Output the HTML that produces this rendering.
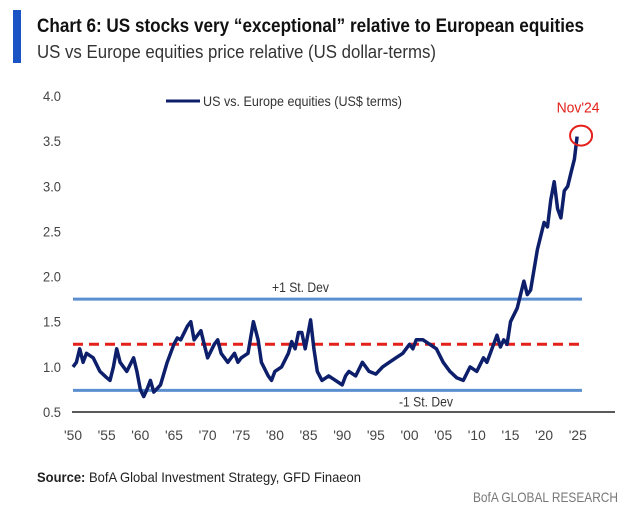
<!DOCTYPE html>
<html><head><meta charset="utf-8"><style>
html,body{margin:0;padding:0;background:#fff;}
svg{display:block;font-family:"Liberation Sans Narrow","Liberation Sans",sans-serif;}
</style></head><body>
<svg width="628" height="507" viewBox="0 0 628 507">
<rect x="13" y="10" width="8" height="53" fill="#1a53c4"/>
<text x="37" y="32" font-size="19" font-weight="bold" fill="#111" textLength="547" lengthAdjust="spacingAndGlyphs">Chart 6: US stocks very “exceptional” relative to European equities</text>
<text x="37" y="58" font-size="18" fill="#333" textLength="399" lengthAdjust="spacingAndGlyphs">US vs Europe equities price relative (US dollar-terms)</text>
<g id="axes"></g>
<g id="plot"></g>
<line x1="166" y1="101" x2="200" y2="101" stroke="#0d1f6b" stroke-width="3"/>
<text x="203" y="106" font-size="14" fill="#333" textLength="199" lengthAdjust="spacingAndGlyphs">US vs. Europe equities (US$ terms)</text>
<text x="37" y="482" font-size="14" fill="#222" textLength="324" lengthAdjust="spacingAndGlyphs"><tspan font-weight="bold">Source:</tspan> BofA Global Investment Strategy, GFD Finaeon</text>
<text x="473" y="502" font-size="14" fill="#777" textLength="145" lengthAdjust="spacingAndGlyphs">BofA GLOBAL RESEARCH</text>
</svg>
<script>
const years=[1950,1950.5,1951,1951.5,1952,1953,1954,1955,1955.5,1956,1956.5,1957,1958,1959,1959.5,1960,1960.5,1961,1961.5,1962,1963,1964,1965,1965.5,1966,1967,1967.5,1968,1969,1969.5,1970,1971,1971.5,1972,1973,1974,1974.5,1975,1976,1976.8,1977.5,1978,1979,1979.5,1980,1981,1982,1982.5,1983,1983.5,1984,1984.5,1985,1985.3,1985.8,1986.3,1987,1988,1989,1990,1990.5,1991,1992,1993,1994,1995,1996,1997,1998,1999,2000,2000.5,2001,2002,2003,2004,2005,2006,2007,2008,2009,2010,2011,2011.5,2012,2013,2013.5,2014,2014.5,2015,2016,2017,2017.5,2018,2019,2020,2020.5,2021,2021.5,2022,2022.5,2023,2023.5,2024,2024.5,2024.9];
const values=[1.0,1.05,1.2,1.05,1.15,1.1,0.95,0.88,0.85,1.0,1.2,1.05,0.95,1.1,0.95,0.75,0.67,0.75,0.85,0.72,0.8,1.05,1.25,1.32,1.3,1.45,1.5,1.3,1.4,1.25,1.1,1.25,1.3,1.15,1.05,1.15,1.05,1.1,1.15,1.5,1.3,1.05,0.9,0.85,0.95,1.0,1.15,1.28,1.2,1.38,1.38,1.2,1.4,1.52,1.2,0.95,0.85,0.9,0.85,0.8,0.9,0.95,0.9,1.05,0.95,0.92,1.0,1.05,1.1,1.15,1.25,1.2,1.3,1.3,1.25,1.2,1.05,0.95,0.88,0.85,1.0,0.95,1.1,1.05,1.15,1.35,1.22,1.3,1.25,1.5,1.65,1.95,1.8,1.85,2.3,2.6,2.55,2.85,3.05,2.75,2.65,2.95,3.0,3.15,3.3,3.55];
const yTicks=[0.5,1.0,1.5,2.0,2.5,3.0,3.5,4.0];
const xTicks=[1950,1955,1960,1965,1970,1975,1980,1985,1990,1995,2000,2005,2010,2015,2020,2025];
const plusSD=[1.75], minusSD=[0.74], meanVal=[1.25];
const NS='http://www.w3.org/2000/svg';
const X=y=>73+(y-1950)*6.73;
const Y=v=>412-(v-0.5)*90.3;
const axes=document.getElementById('axes'), plot=document.getElementById('plot');
function mk(tag,attrs,parent,txt){const e=document.createElementNS(NS,tag);for(const k in attrs)e.setAttribute(k,attrs[k]);if(txt!==undefined)e.textContent=txt;parent.appendChild(e);return e;}
const base=mk('line',{x1:72,x2:615,y1:Y(0.5),y2:Y(0.5),stroke:'#222','stroke-width':1.5},axes);


yTicks.forEach(v=>{const t=mk('text',{x:43,y:Y(v)+5,'font-size':14,fill:'#444',textLength:18,lengthAdjust:'spacingAndGlyphs'},axes,v.toFixed(1));

});
xTicks.forEach(y=>{const t=mk('text',{x:X(y)-9,y:440,'font-size':14,fill:'#444',textLength:18,lengthAdjust:'spacingAndGlyphs'},axes,"'"+String(y).slice(2));

});
const p1=mk('line',{x1:73,x2:582,y1:Y(plusSD[0]),y2:Y(plusSD[0]),stroke:'#5b8fd0','stroke-width':3},plot);


const m1=mk('line',{x1:73,x2:582,y1:Y(meanVal[0]),y2:Y(meanVal[0]),stroke:'#e3201b','stroke-width':3,'stroke-dasharray':'10,6'},plot);


const n1=mk('line',{x1:73,x2:582,y1:Y(minusSD[0]),y2:Y(minusSD[0]),stroke:'#5b8fd0','stroke-width':3},plot);


const l1=mk('text',{x:272,y:Y(plusSD[0])-7,'font-size':14,fill:'#333',textLength:57,lengthAdjust:'spacingAndGlyphs'},plot,'+1 St. Dev');


const l2=mk('text',{x:399,y:Y(minusSD[0])+16,'font-size':14,fill:'#333',textLength:54,lengthAdjust:'spacingAndGlyphs'},plot,'-1 St. Dev');


const d=years.map((y,i)=>(i?'L':'M')+X(y).toFixed(1)+','+Y(values[i]).toFixed(1)).join('');
const line=mk('path',{d:d,fill:'none',stroke:'#0d1f6b','stroke-width':3.5,'stroke-linejoin':'round'},plot);


const lx=X(years[years.length-1]), ly=Y(values[values.length-1]);
const c=mk('ellipse',{cx:lx+4,cy:ly-1,rx:11,ry:10,fill:'none',stroke:'#e3201b','stroke-width':2},plot);


const an=mk('text',{x:lx+1,y:ly-24,'font-size':15,fill:'#e3201b','text-anchor':'middle',textLength:43,lengthAdjust:'spacingAndGlyphs'},plot,"Nov'24");


</script>
</body></html>
